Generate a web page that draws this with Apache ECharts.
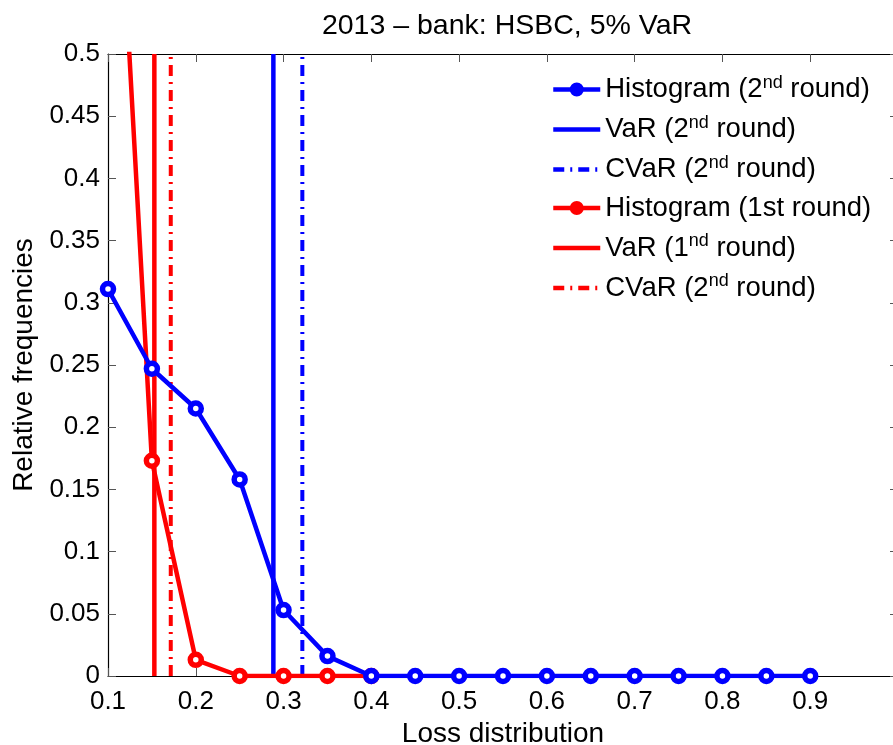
<!DOCTYPE html>
<html>
<head>
<meta charset="utf-8">
<script src="https://cdn.jsdelivr.net/npm/echarts@6/dist/echarts.min.js"></script>
<style>html,body{margin:0;padding:0;background:#fff}#c{width:893px;height:745px}</style>
</head>
<body>
<div id="c"></div>
<script>
const titleText = '2013 \u2013 bank: HSBC, 5% VaR';
const xName = 'Loss distribution';
const yName = 'Relative frequencies';
const binsBlue = [0.1,0.15,0.2,0.25,0.3,0.35,0.4,0.45,0.5,0.55,0.6,0.65,0.7,0.75,0.8,0.85,0.9];
const histBlue = [0.311,0.247,0.215,0.158,0.053,0.016,0,0,0,0,0,0,0,0,0,0,0];
const binsRed = [0.1,0.15,0.2,0.25,0.3,0.35,0.4];
const histRed = [0.81,0.173,0.013,0,0,0,0];
const varBlue = 0.2884;
const cvarBlue = 0.3214;
const varRed = 0.1528;
const cvarRed = 0.1715;
const vlineSpan = [0, 0.5];
const legendLabels = {
  h2: '{t|Histogram (2}{s|nd}{t| round)}',
  v2: '{t|VaR (2}{s|nd}{t| round)}',
  c2: '{t|CVaR (2}{s|nd}{t| round)}',
  h1: '{t|Histogram (1st round)}',
  v1: '{t|VaR (1}{s|nd}{t| round)}',
  c1: '{t|CVaR (2}{s|nd}{t| round)}'
};

const BLUE = '#0000ff', RED = '#ff0000';
const FONT = 'Liberation Sans';
const dashDot = [11, 6, 2, 6];

function pairs(xs, ys){ return xs.map((x,i)=>[x, ys[i]]); }
function vline(x){ return vlineSpan.map(y=>[x,y]); }

const markerStyle = (c)=>({color:'#fff', borderColor:c, borderWidth:5.5});
const noSym = {opacity:0};

const chart = echarts.init(document.getElementById('c'), null, {renderer:'canvas'});
chart.setOption({
  animation:false,
  backgroundColor:'#fff',
  title:{text:titleText, left:502, top:7, textAlign:'center',
    textStyle:{fontFamily:FONT, fontSize:28.5, fontWeight:'normal', color:'#000'}},
  grid:{left:108, top:54, height:622, width:790, outerBoundsMode:'none', containLabel:false},
  legend:{
    orient:'vertical', left:546, top:69, itemWidth:47, itemHeight:15, itemGap:10.5,
    lineStyle:{width:4.5},
    data:[
      {name:'h2', itemStyle:{color:BLUE, borderColor:BLUE}},
      {name:'v2', itemStyle:noSym},
      {name:'c2', itemStyle:noSym},
      {name:'h1', itemStyle:{color:RED, borderColor:RED}},
      {name:'v1', itemStyle:noSym},
      {name:'c1', itemStyle:noSym}
    ],
    formatter:(n)=>legendLabels[n],
    textStyle:{fontFamily:FONT, fontSize:27.5, color:'#000',
      rich:{t:{fontFamily:FONT, fontSize:27.5, color:'#000', lineHeight:28},
            s:{fontFamily:FONT, fontSize:18, color:'#000', padding:[0,0,13,0]}}},
    selectedMode:false
  },
  xAxis:[{
    type:'value', min:0.1, max:1.0, interval:0.1,
    name:xName, nameLocation:'middle', nameGap:38,
    nameTextStyle:{fontFamily:FONT, fontSize:28, color:'#000'},
    axisLine:{onZero:false, lineStyle:{color:'#000', width:1.2}},
    axisTick:{inside:true, length:8, lineStyle:{color:'#555'}},
    axisLabel:{fontFamily:FONT, fontSize:26, color:'#000', margin:13,
      formatter:(v)=> v>0.95 ? '' : (Math.round(v*10)/10).toString()},
    splitLine:{show:false}
  },{
    type:'value', position:'top', min:0.1, max:1.0, interval:0.1,
    axisLine:{onZero:false, lineStyle:{color:'#000', width:1.2}},
    axisTick:{inside:true, length:8, lineStyle:{color:'#555'}},
    axisLabel:{show:false}, splitLine:{show:false}
  }],
  yAxis:[{
    type:'value', min:0, max:0.5, interval:0.05,
    name:yName, nameLocation:'middle', nameGap:64, nameRotate:90,
    nameTextStyle:{fontFamily:FONT, fontSize:28, color:'#000'},
    axisLine:{show:true, onZero:false, lineStyle:{color:'#000', width:1.2}},
    axisTick:{show:true, inside:true, length:8, lineStyle:{color:'#555'}},
    axisLabel:{fontFamily:FONT, fontSize:26, color:'#000', margin:8,
      formatter:(v)=> (Math.round(v*100)/100).toString()},
    splitLine:{show:false}
  },{
    type:'value', position:'right', min:0, max:0.5, interval:0.05,
    axisLine:{show:true, onZero:false, lineStyle:{color:'#000', width:1.2}},
    axisTick:{show:true, inside:true, length:8, lineStyle:{color:'#555'}},
    axisLabel:{show:false}, splitLine:{show:false}
  }],
  series:[
    {name:'h2', type:'line', z:5, data:pairs(binsBlue, histBlue), symbol:'circle', symbolSize:11,
      lineStyle:{color:BLUE, width:4.5}, itemStyle:markerStyle(BLUE), color:BLUE},
    {name:'v2', type:'line', z:3, data:vline(varBlue), showSymbol:false, symbol:'none',
      lineStyle:{color:BLUE, width:4.5}, color:BLUE},
    {name:'c2', type:'line', z:3, data:vline(cvarBlue), showSymbol:false, symbol:'none',
      lineStyle:{color:BLUE, width:4, type:dashDot}, color:BLUE},
    {name:'h1', type:'line', z:4, data:pairs(binsRed, histRed), symbol:'circle', symbolSize:11,
      lineStyle:{color:RED, width:4.5}, itemStyle:markerStyle(RED), color:RED},
    {name:'v1', type:'line', z:3, data:vline(varRed), showSymbol:false, symbol:'none',
      lineStyle:{color:RED, width:4.5}, color:RED},
    {name:'c1', type:'line', z:3, data:vline(cvarRed), showSymbol:false, symbol:'none',
      lineStyle:{color:RED, width:4, type:dashDot}, color:RED}
  ]
});
</script>
</body>
</html>
